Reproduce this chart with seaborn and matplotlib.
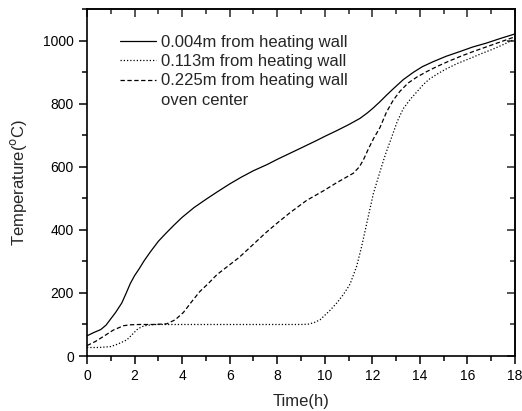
import matplotlib
matplotlib.use("Agg")
import matplotlib.pyplot as plt
from matplotlib.lines import Line2D
from matplotlib.ticker import MultipleLocator
import seaborn as sns
import pandas as pd

# time (h) and temperatures (C)
t_wall = [0, 0.3, 0.58, 0.8, 0.97, 1.2, 1.46, 1.65, 1.82, 2.0, 2.17, 2.4, 2.66, 3.0, 3.3, 3.64, 4.0,
          4.5, 5.0, 5.46, 6.0, 6.5, 7.0, 7.56, 8.0, 8.5, 9.0, 9.66, 10.0, 10.5, 11.0, 11.48, 11.8,
          12.05, 12.32, 12.6, 12.88, 13.3, 13.72, 14.1, 14.56, 15.1, 15.68, 16.2, 16.8, 17.4, 18]
temp_wall = [64, 75, 84, 98, 115, 138, 168, 200, 230, 255, 274, 302, 330, 364, 388, 414, 440,
             471, 497, 520, 546, 568, 588, 607, 624, 642, 660, 684, 697, 715, 734, 754, 772,
             788, 807, 828, 848, 877, 900, 918, 934, 951, 966, 980, 993, 1008, 1022]

t_mid = [0, 0.5, 1.0, 1.3, 1.67, 1.9, 2.09, 2.3, 2.51, 2.8, 4, 6, 8, 9.0, 9.3, 9.55, 9.8, 10.22,
         10.5, 10.78, 11.06, 11.34, 11.55, 11.76, 12.04, 12.32, 12.55, 12.81, 13.05, 13.3, 13.6,
         13.87, 14.15, 14.42, 14.8, 15.13, 15.6, 16.1, 16.6, 17.08, 17.5, 18]
temp_mid = [27, 27, 30, 38, 51, 68, 83, 93, 97, 100, 100, 100, 100, 100, 101, 106, 115, 145,
            168, 195, 228, 285, 348, 420, 515, 585, 640, 694, 745, 785, 815,
            838, 862, 880, 898, 912, 929, 944, 960, 974, 988, 1006]

t_far = [0, 0.35, 0.69, 1.1, 1.53, 1.8, 2.2, 2.8, 3.35, 3.71, 4.05, 4.48, 4.75, 5.1, 5.46, 5.87,
         6.4, 6.86, 7.5, 8.0, 8.54, 9.24, 9.94, 10.5, 11.2, 11.45, 11.62, 11.85, 12.05, 12.32,
         12.6, 12.88, 13.16, 13.5, 13.87, 14.3, 14.7, 15.2, 15.68, 16.2, 16.8, 17.4, 18]
temp_far = [33, 46, 62, 82, 96, 99, 100, 100, 102, 115, 138, 180, 205, 230, 258, 282,
            313, 345, 390, 422, 455, 494, 524, 550, 580, 600, 622, 660, 690, 725,
            775, 812, 840, 866, 885, 903, 918, 935, 950, 965, 981, 997, 1013]

labels = ["0.004m from heating wall", "0.113m from heating wall", "0.225m from heating wall", "oven center"]

sns.set_theme(style="ticks")
plt.rcParams["font.family"] = ["Liberation Sans", "DejaVu Sans"]

fig = plt.figure(figsize=(5.22, 4.11), dpi=100)
ax = fig.add_axes([0.1667, 0.1338, 0.82, 0.8435])

dotted = (0, (1, 1.6))
dashed = (0, (3.5, 2))

sns.lineplot(data=pd.DataFrame({"t": t_wall, "T": temp_wall}), x="t", y="T", ax=ax,
             color="black", lw=0.9, linestyle="-")
sns.lineplot(data=pd.DataFrame({"t": t_mid, "T": temp_mid}), x="t", y="T", ax=ax,
             color="black", lw=0.9, linestyle=dotted)
sns.lineplot(data=pd.DataFrame({"t": t_far, "T": temp_far}), x="t", y="T", ax=ax,
             color="black", lw=0.9, linestyle=dashed)

handles = [
    Line2D([], [], color="black", lw=0.9, linestyle="-"),
    Line2D([], [], color="black", lw=0.9, linestyle=dotted),
    Line2D([], [], color="black", lw=0.9, linestyle=dashed),
    Line2D([], [], color="none", linestyle="none"),
]
ax.legend(handles, labels, loc="upper left", bbox_to_anchor=(0.062, 0.946), frameon=False,
          fontsize=12, handlelength=2.15, handletextpad=0.3, labelspacing=0.26,
          borderaxespad=0)

ax.set_xlim(0, 18)
ax.set_ylim(0, 1100)
ax.xaxis.set_major_locator(MultipleLocator(2))
ax.xaxis.set_minor_locator(MultipleLocator(1))
ax.yaxis.set_major_locator(MultipleLocator(200))
ax.yaxis.set_minor_locator(MultipleLocator(100))
ax.tick_params(which="both", direction="out", top=False, right=False, labelsize=10, colors="black")
ax.tick_params(which="major", length=5.5, width=1.1, pad=4)
ax.tick_params(which="minor", length=3.5, width=1.1)
for s in ax.spines.values():
    s.set_visible(True)
    s.set_linewidth(1.2)
    s.set_color("black")

# inward ticks mirrored on top and right
sec_x = ax.secondary_xaxis("top")
sec_x.xaxis.set_major_locator(MultipleLocator(2))
sec_x.xaxis.set_minor_locator(MultipleLocator(1))
sec_x.tick_params(which="both", direction="in", labeltop=False, width=1.1)
sec_x.tick_params(which="major", length=5.5)
sec_x.tick_params(which="minor", length=3.5)
sec_y = ax.secondary_yaxis("right")
sec_y.yaxis.set_major_locator(MultipleLocator(200))
sec_y.yaxis.set_minor_locator(MultipleLocator(100))
sec_y.tick_params(which="both", direction="in", labelright=False, width=1.1)
sec_y.tick_params(which="major", length=5.5)
sec_y.tick_params(which="minor", length=3.5)

ax.set_xlabel("Time(h)", fontsize=12, labelpad=8)
ax.set_ylabel("Temperature($^{\\rm o}$C)", fontsize=12, labelpad=10)

fig.savefig("out.png", dpi=100)
